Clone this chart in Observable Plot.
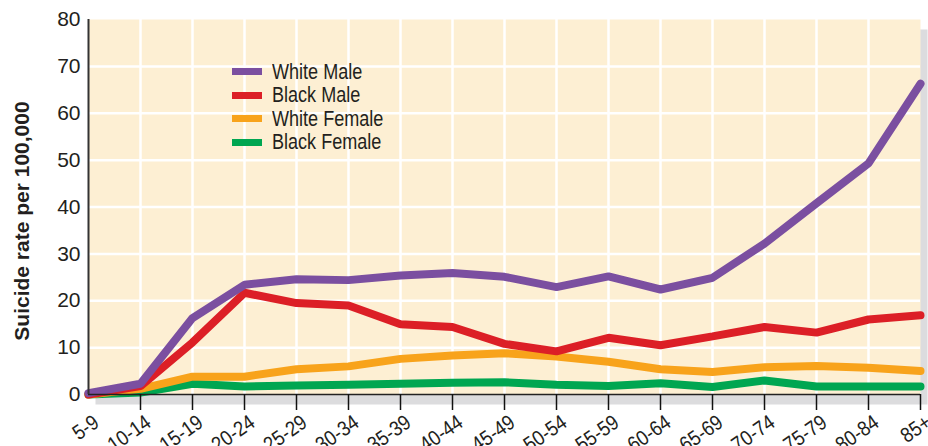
<!DOCTYPE html>
<html><head><meta charset="utf-8">
<script src="https://cdn.jsdelivr.net/npm/d3@7"></script>
<script src="https://cdn.jsdelivr.net/npm/@observablehq/plot@0.6"></script>
<style>
body{margin:0;background:#fff;}
#wrap{position:relative;width:928px;height:446px;overflow:hidden;}
#legend{position:absolute;left:232px;top:60px;font-family:"Liberation Sans",Arial,sans-serif;font-size:22px;color:#231f20;}
#legend .row{display:flex;align-items:center;height:23.5px;}
#legend .sw{width:30px;height:7px;margin-right:10px;flex:none;}
#legend .lbl{display:inline-block;transform:scaleX(0.82);transform-origin:left center;white-space:nowrap;}
</style></head>
<body><div id="wrap"><div id="legend"></div></div>
<script>
const ageGroups = ["5-9","10-14","15-19","20-24","25-29","30-34","35-39","40-44","45-49","50-54","55-59","60-64","65-69","70-74","75-79","80-84","85+"];
const whiteMale   = [0.3, 2.3, 16.3, 23.4, 24.6, 24.4, 25.4, 25.9, 25.1, 22.9, 25.2, 22.4, 24.9, 32.2, 40.8, 49.3, 66.3];
const blackMale   = [0.0, 1.8, 11.1, 21.7, 19.5, 19.0, 15.0, 14.4, 10.8, 9.2, 12.1, 10.5, 12.4, 14.4, 13.2, 16.0, 16.9];
const whiteFemale = [0.0, 1.2, 3.8, 3.8, 5.4, 6.0, 7.6, 8.3, 8.8, 8.1, 7.0, 5.4, 4.8, 5.8, 6.1, 5.7, 5.0];
const blackFemale = [0.0, 0.4, 2.3, 1.7, 1.9, 2.1, 2.3, 2.5, 2.6, 2.1, 1.8, 2.4, 1.6, 3.0, 1.7, 1.7, 1.7];
const seriesNames = ["White Male","Black Male","White Female","Black Female"];
const seriesColors = ["#7b4fa0","#dc1f26","#f8a31b","#00a651"];
const yTicks = [0,10,20,30,40,50,60,70,80];
const yTitle = "Suicide rate per 100,000";

const seriesValues = [whiteMale, blackMale, whiteFemale, blackFemale];
const rows = [];
seriesNames.forEach((s, k) => ageGroups.forEach((a, i) => rows.push({series: s, age: a, value: seriesValues[k][i]})));
const drawOrder = ["Black Female","White Female","Black Male","White Male"];

const font = '"Liberation Sans",Arial,sans-serif';
const chart = Plot.plot({
  width: 928, height: 446,
  marginLeft: 88, marginRight: 8, marginTop: 19, marginBottom: 52,
  style: {fontFamily: font, color: "#231f20", background: "transparent"},
  x: {type: "point", domain: ageGroups, padding: 0},
  y: {domain: [0, 80]},
  marks: [
    Plot.frame({fill: "#dcdcde", stroke: null, dx: 7, dy: 10}),
    Plot.frame({fill: "#fdefd3", stroke: null}),
    Plot.gridY(yTicks.slice(1, -1), {stroke: "#fff", strokeOpacity: 1, strokeWidth: 2.5}),
    Plot.gridX(ageGroups.slice(1, -1), {stroke: "#fff", strokeOpacity: 1, strokeWidth: 2.5}),
    ...drawOrder.map(s => Plot.line(rows.filter(d => d.series === s), {
      x: "age", y: "value", stroke: seriesColors[seriesNames.indexOf(s)], strokeWidth: 8, strokeLinejoin: "miter"
    })),
    Plot.ruleY([0], {stroke: "#222", strokeWidth: 1.5}),
    Plot.ruleX([ageGroups[0]], {stroke: "#333", strokeWidth: 2}),
    Plot.axisX({ticks: ageGroups.slice(1), tickSize: 16, tickFormat: () => "", label: null, stroke: "#111", strokeWidth: 1.5}),
    Plot.text(ageGroups, {x: d => d, frameAnchor: "bottom", rotate: -35, textAnchor: "end", dx: 12, dy: 31, fontSize: 21, fill: "#231f20", className: "xlab"}),
    Plot.axisY({ticks: yTicks, tickSize: 0, tickPadding: 8, fontSize: 21, label: null}),
    Plot.text([yTitle], {frameAnchor: "left", textAnchor: "middle", rotate: -90, dx: -66, dy: 14, fontSize: 21, fontWeight: "bold", fill: "#231f20"})
  ]
});
d3.select(chart).selectAll(".xlab text").attr("transform", function() {
  return (this.getAttribute("transform") || "") + " scale(0.88,1)";
});
document.getElementById("wrap").prepend(chart);

const legend = document.getElementById("legend");
seriesNames.forEach((s, k) => {
  const row = document.createElement("div"); row.className = "row";
  const sw = document.createElement("div"); sw.className = "sw"; sw.style.background = seriesColors[k];
  const t = document.createElement("span"); t.className = "lbl"; t.textContent = s;
  row.append(sw, t); legend.append(row);
});
</script></body></html>
